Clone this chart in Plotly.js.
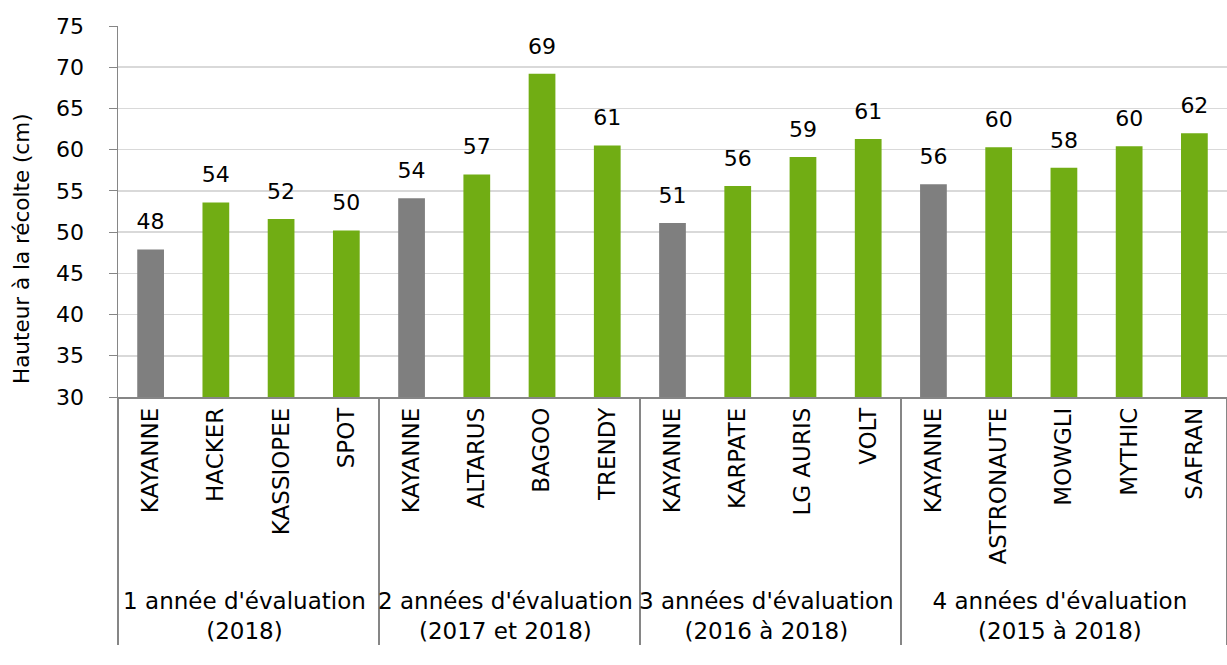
<!DOCTYPE html>
<html>
<head>
<meta charset="utf-8">
<script src="https://cdn.plot.ly/plotly-3.0.1.min.js"></script>
<style>html,body{margin:0;padding:0;background:#fff}#chart{width:1227px;height:665px}</style>
</head>
<body>
<div id="chart"></div>
<script>
const groups = [
  "1 année d'évaluation<br>(2018)",
  "2 années d'évaluation<br>(2017 et 2018)",
  "3 années d'évaluation<br>(2016 à 2018)",
  "4 années d'évaluation<br>(2015 à 2018)"
];
const varieties = [
  ["KAYANNE", "HACKER", "KASSIOPEE", "SPOT"],
  ["KAYANNE", "ALTARUS", "BAGOO", "TRENDY"],
  ["KAYANNE", "KARPATE", "LG AURIS", "VOLT"],
  ["KAYANNE", "ASTRONAUTE", "MOWGLI", "MYTHIC", "SAFRAN"]
];
const heights = [
  [47.9, 53.6, 51.6, 50.2],
  [54.1, 57.0, 69.2, 60.5],
  [51.1, 55.6, 59.1, 61.3],
  [55.8, 60.3, 57.8, 60.4, 62.0]
];
const referenceVariety = "KAYANNE";
const yTitle = 'Hauteur à la récolte (cm)';

const xGroup = [], xCat = [], yVals = [], colors = [];
groups.forEach((g, i) => {
  varieties[i].forEach((v, j) => {
    xGroup.push(g);
    xCat.push(v);
    yVals.push(heights[i][j]);
    colors.push(v === referenceVariety ? '#7f7f7f' : '#71ad14');
  });
});

const font = "'DejaVu Sans', sans-serif";
const bars = {
  type: 'bar',
  x: [xGroup, xCat],
  y: yVals,
  marker: {color: colors},
  hoverinfo: 'none'
};
const labels = {
  type: 'scatter',
  mode: 'markers+text',
  x: [xGroup, xCat],
  y: yVals,
  marker: {size: 22, opacity: 0},
  text: yVals.map(v => Math.round(v).toString()),
  textposition: 'top center',
  textfont: {family: font, size: 22, color: '#000'},
  cliponaxis: false,
  hoverinfo: 'none'
};

const layout = {
  width: 1227, height: 665,
  margin: {l: 118, r: 0, t: 26, b: 268},
  paper_bgcolor: '#fff', plot_bgcolor: '#fff',
  showlegend: false,
  bargap: 0.59,
  font: {family: font, size: 22, color: '#000'},
  yaxis: {
    range: [30, 75], dtick: 5,
    showgrid: true, gridcolor: '#d9d9d9', gridwidth: 1.5,
    showline: true, linecolor: '#868686', linewidth: 1.5,
    ticks: 'outside', ticklen: 8, tickcolor: '#868686',
    ticklabelstandoff: 20,
    tickfont: {family: font, size: 22, color: '#000'},
    zeroline: false
  },
  xaxis: {
    type: 'multicategory',
    range: [-0.5, yVals.length - 0.5],
    showline: true, linecolor: '#868686', linewidth: 1.5,
    tickangle: -90,
    ticks: '',
    showdividers: true, dividercolor: '#868686', dividerwidth: 1.5,
    tickfont: {family: font, size: 23, color: '#000'}
  },
  annotations: [{
    text: yTitle, textangle: -90,
    xref: 'paper', yref: 'paper', x: 0, y: 0.399,
    xshift: -96, xanchor: 'center', yanchor: 'middle',
    showarrow: false,
    font: {family: font, size: 21.5, color: '#000'}
  }]
};

Plotly.newPlot('chart', [bars, labels], layout, {displayModeBar: false, staticPlot: true});
</script>
</body>
</html>
